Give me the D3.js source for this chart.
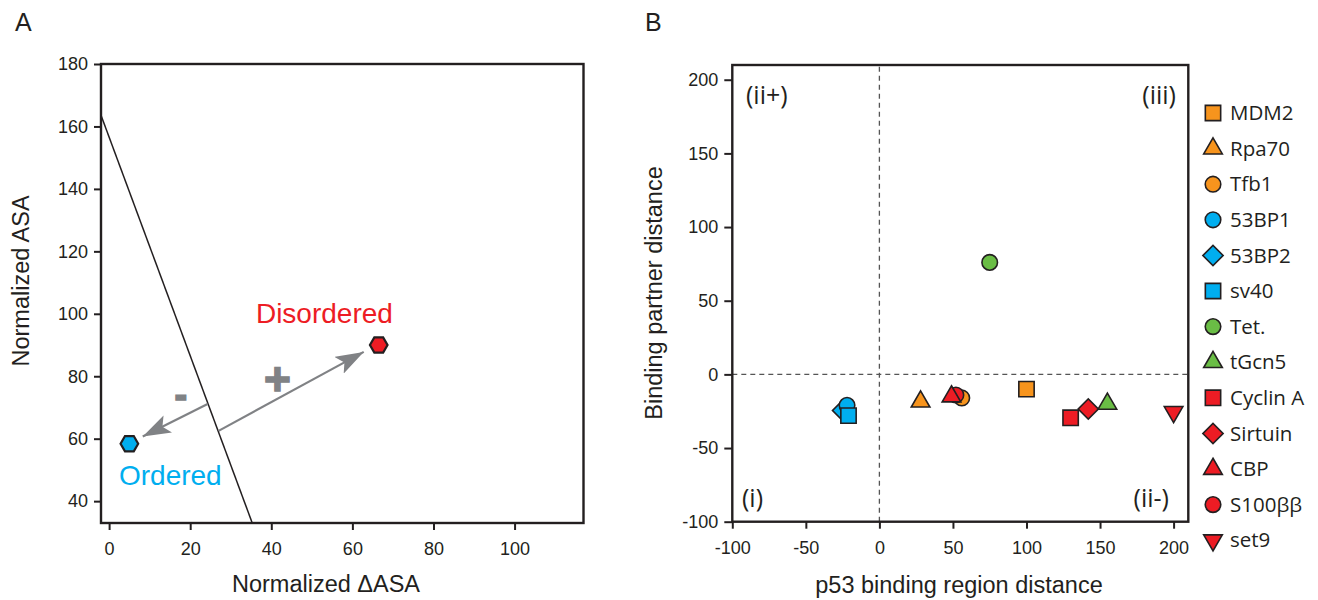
<!DOCTYPE html>
<html>
<head>
<meta charset="utf-8">
<script src="https://cdn.jsdelivr.net/npm/d3@7"></script>
<style>
  body { margin: 0; background: #fff; }
  svg { display: block; font-family: 'Liberation Sans', Arial, sans-serif; }
</style>
</head>
<body>
<svg></svg>
<script>
const width = 1318;
const height = 600;
const ink = '#231f20';
const gray = '#808285';

// panel A data
const hexNames = ['Ordered', 'Disordered'];
const hexX = [5, 66.5];
const hexY = [58.4, 90];
const hexColors = ['#00aeef', '#ed1c24'];
const hexLabelX = [15.1, 53.1];
const hexLabelY = [45.2, 97.1];
const boundaryX = [-2, 35.3];
const boundaryY = [163.6, 33];
const arrowFrom = [[24.3, 71.1], [27, 62.5]];
const arrowTo = [[8.3, 60.7], [62.8, 87.8]];
const arrowSigns = ['-', '+'];
const signPos = [[17.7, 73.9], [41.5, 79.2]];
const signSizes = [38, 46];
const aXTicks = [0, 20, 40, 60, 80, 100];
const aYTicks = [40, 60, 80, 100, 120, 140, 160, 180];

// panel B data
const partners = ['MDM2', 'Rpa70', 'Tfb1', '53BP1', '53BP2', 'sv40', 'Tet.', 'tGcn5', 'Cyclin A', 'Sirtuin', 'CBP', 'S100\u03b2\u03b2', 'set9'];
const regionDist = [100, 28, 56, -22, -25, -21, 75, 155, 130, 142, 49, 52, 200];
const partnerDist = [-10, -18.5, -16, -21, -24.5, -28, 76, -20, -29.5, -23.5, -15, -14, -25.5];
const shapes = ['square', 'triangle', 'circle', 'circle', 'diamond', 'square', 'circle', 'triangle', 'square', 'diamond', 'triangle', 'circle', 'down'];
const colors = ['#f7941d', '#f7941d', '#f7941d', '#00aeef', '#00aeef', '#00aeef', '#6abd45', '#6abd45', '#ed1c24', '#ed1c24', '#ed1c24', '#ed1c24', '#ed1c24'];
const drawOrder = [0, 1, 2, 4, 3, 5, 6, 8, 9, 7, 11, 10, 12];
const bTicks = [-100, -50, 0, 50, 100, 150, 200];
const quadrants = ['(ii+)', '(iii)', '(i)', '(ii-)'];

function symbolPath(shape) {
  if (shape === 'square') return d3.symbol(d3.symbolSquare, 235)();
  if (shape === 'circle') return d3.symbol(d3.symbolCircle, 190)();
  if (shape === 'diamond') return d3.symbol(d3.symbolSquare, 205)();
  return d3.symbol(d3.symbolTriangle, 150)();
}
function symbolRotate(shape) {
  if (shape === 'diamond') return 45;
  if (shape === 'down') return 180;
  return 0;
}

function styleAxis(g) {
  g.select('.domain').remove();
  g.selectAll('line').attr('stroke', ink).attr('stroke-width', 2);
  g.selectAll('text')
      .attr('font-size', 18)
      .attr('fill', ink)
      .attr('font-family', 'Liberation Sans');
}

window.onload = () => {
  const svg = d3.select('svg')
      .attr('width', width)
      .attr('height', height);

  svg.append('text').attr('x', 15).attr('y', 31)
      .attr('font-size', 25).attr('fill', ink).text('A');
  svg.append('text').attr('x', 645).attr('y', 31)
      .attr('font-size', 25).attr('fill', ink).text('B');

  // ---------- panel A ----------
  const ax = d3.scaleLinear().domain([-2, 117]).range([101, 583.5]);
  const ay = d3.scaleLinear().domain([33, 180]).range([523, 64]);

  const defs = svg.append('defs');
  defs.append('marker')
      .attr('id', 'head')
      .attr('markerUnits', 'userSpaceOnUse')
      .attr('viewBox', '0 0 28 19')
      .attr('refX', 28).attr('refY', 9.5)
      .attr('markerWidth', 28).attr('markerHeight', 19)
      .attr('orient', 'auto')
    .append('path')
      .attr('d', 'M0,0 L28,9.5 L0,19 L6,9.5 Z')
      .attr('fill', gray);

  const gA = svg.append('g');

  gA.append('g')
      .attr('transform', 'translate(0,523)')
      .call(d3.axisBottom(ax).tickValues(aXTicks).tickFormat(d => String(d)).tickSize(7).tickPadding(12))
      .call(styleAxis);

  gA.append('g')
      .attr('transform', 'translate(101,0)')
      .call(d3.axisLeft(ay).tickValues(aYTicks).tickFormat(d => String(d)).tickSize(7).tickPadding(6))
      .call(styleAxis);

  gA.append('rect')
      .attr('x', ax(-2)).attr('y', ay(180))
      .attr('width', ax(117) - ax(-2)).attr('height', ay(33) - ay(180))
      .attr('fill', 'none').attr('stroke', ink).attr('stroke-width', 2.4);

  gA.append('line')
      .attr('x1', ax(boundaryX[0])).attr('y1', ay(boundaryY[0]))
      .attr('x2', ax(boundaryX[1])).attr('y2', ay(boundaryY[1]))
      .attr('stroke', ink).attr('stroke-width', 1.5);

  gA.selectAll('.arrow')
    .data(arrowFrom)
    .join('line')
      .attr('class', 'arrow')
      .attr('x1', d => ax(d[0])).attr('y1', d => ay(d[1]))
      .attr('x2', (d, i) => ax(arrowTo[i][0])).attr('y2', (d, i) => ay(arrowTo[i][1]))
      .attr('stroke', gray).attr('stroke-width', 2.2)
      .attr('marker-end', 'url(#head)');

  gA.selectAll('.sign')
    .data(arrowSigns)
    .join('text')
      .attr('class', 'sign')
      .attr('x', (d, i) => ax(signPos[i][0])).attr('y', (d, i) => ay(signPos[i][1]))
      .attr('text-anchor', 'middle')
      .attr('dominant-baseline', 'central')
      .attr('font-size', (d, i) => signSizes[i]).attr('font-weight', 'bold')
      .attr('fill', gray).attr('stroke', gray).attr('stroke-width', 1.5)
      .text(d => d);

  const hex = d3.range(6).map(k => {
    const a = Math.PI / 3 * k;
    return [8.8 * Math.cos(a), 8.8 * Math.sin(a)];
  });
  gA.selectAll('.hex')
    .data(hexNames)
    .join('path')
      .attr('class', 'hex')
      .attr('d', d3.line()(hex) + 'Z')
      .attr('transform', (d, i) => `translate(${ax(hexX[i])},${ay(hexY[i])})`)
      .attr('fill', (d, i) => hexColors[i])
      .attr('stroke', ink).attr('stroke-width', 2.2);

  gA.selectAll('.hexlabel')
    .data(hexNames)
    .join('text')
      .attr('class', 'hexlabel')
      .attr('x', (d, i) => ax(hexLabelX[i])).attr('y', (d, i) => ay(hexLabelY[i]))
      .attr('text-anchor', 'middle').attr('font-size', 28)
      .attr('fill', (d, i) => hexColors[i])
      .text(d => d);

  gA.append('text')
      .attr('x', 326).attr('y', 592)
      .attr('text-anchor', 'middle').attr('font-size', 23.5).attr('fill', ink)
      .text('Normalized \u0394ASA');
  gA.append('text')
      .attr('transform', 'translate(28.5,281) rotate(-90)')
      .attr('text-anchor', 'middle').attr('font-size', 23.5).attr('fill', ink)
      .text('Normalized ASA');

  // ---------- panel B ----------
  const bx = d3.scaleLinear().domain([-100, 210]).range([732.3, 1188.3]);
  const by = d3.scaleLinear().domain([-100, 210]).range([521.7, 65]);

  const gB = svg.append('g');

  gB.append('g')
      .attr('transform', 'translate(0,521.7)')
      .call(d3.axisBottom(bx).tickValues(bTicks).tickFormat(d => String(d)).tickSize(7).tickPadding(13))
      .call(styleAxis);

  gB.append('g')
      .attr('transform', 'translate(732.3,0)')
      .call(d3.axisLeft(by).tickValues(bTicks).tickFormat(d => String(d)).tickSize(8).tickPadding(6))
      .call(styleAxis);

  gB.append('line')
      .attr('x1', bx(0)).attr('x2', bx(0))
      .attr('y1', by(-100)).attr('y2', by(210))
      .attr('stroke', '#555').attr('stroke-width', 1.3).attr('stroke-dasharray', '5,4');
  gB.append('line')
      .attr('x1', bx(-100)).attr('x2', bx(210))
      .attr('y1', by(0)).attr('y2', by(0))
      .attr('stroke', '#555').attr('stroke-width', 1.3).attr('stroke-dasharray', '5,4');

  gB.append('rect')
      .attr('x', bx(-100)).attr('y', by(210))
      .attr('width', bx(210) - bx(-100)).attr('height', by(-100) - by(210))
      .attr('fill', 'none').attr('stroke', ink).attr('stroke-width', 2.4);

  const qx = [746, 1176, 742, 1169];
  const qy = [104, 104, 507, 507];
  const qa = ['start', 'end', 'start', 'end'];
  gB.selectAll('.quad')
    .data(quadrants)
    .join('text')
      .attr('class', 'quad')
      .attr('x', (d, i) => qx[i]).attr('y', (d, i) => qy[i])
      .attr('text-anchor', (d, i) => qa[i])
      .attr('font-family', 'Open Sans').attr('font-size', 25).attr('fill', ink)
      .text(d => d);

  gB.selectAll('.pt')
    .data(drawOrder)
    .join('path')
      .attr('class', 'pt')
      .attr('d', i => symbolPath(shapes[i]))
      .attr('transform', i => `translate(${bx(regionDist[i])},${by(partnerDist[i])}) rotate(${symbolRotate(shapes[i])})`)
      .attr('fill', i => colors[i])
      .attr('stroke', ink).attr('stroke-width', 1.6);

  gB.append('text')
      .attr('x', 959).attr('y', 593)
      .attr('text-anchor', 'middle').attr('font-size', 23.5).attr('fill', ink)
      .text('p53 binding region distance');
  gB.append('text')
      .attr('transform', 'translate(662,293) rotate(-90)')
      .attr('text-anchor', 'middle').attr('font-size', 23.5).attr('fill', ink)
      .text('Binding partner distance');

  // legend
  const legend = svg.append('g').attr('transform', 'translate(1213,113)');
  const rows = legend.selectAll('.row')
    .data(partners)
    .join('g')
      .attr('class', 'row')
      .attr('transform', (d, i) => `translate(0,${i * 35.6})`);
  rows.append('path')
      .attr('d', (d, i) => symbolPath(shapes[i]))
      .attr('transform', (d, i) => `rotate(${symbolRotate(shapes[i])})`)
      .attr('fill', (d, i) => colors[i])
      .attr('stroke', ink).attr('stroke-width', 1.6);
  rows.append('text')
      .attr('x', 17).attr('dy', '0.35em')
      .attr('font-family', 'Open Sans').attr('font-size', 20.5).attr('fill', ink)
      .text(d => d);
};
</script>
</body>
</html>
